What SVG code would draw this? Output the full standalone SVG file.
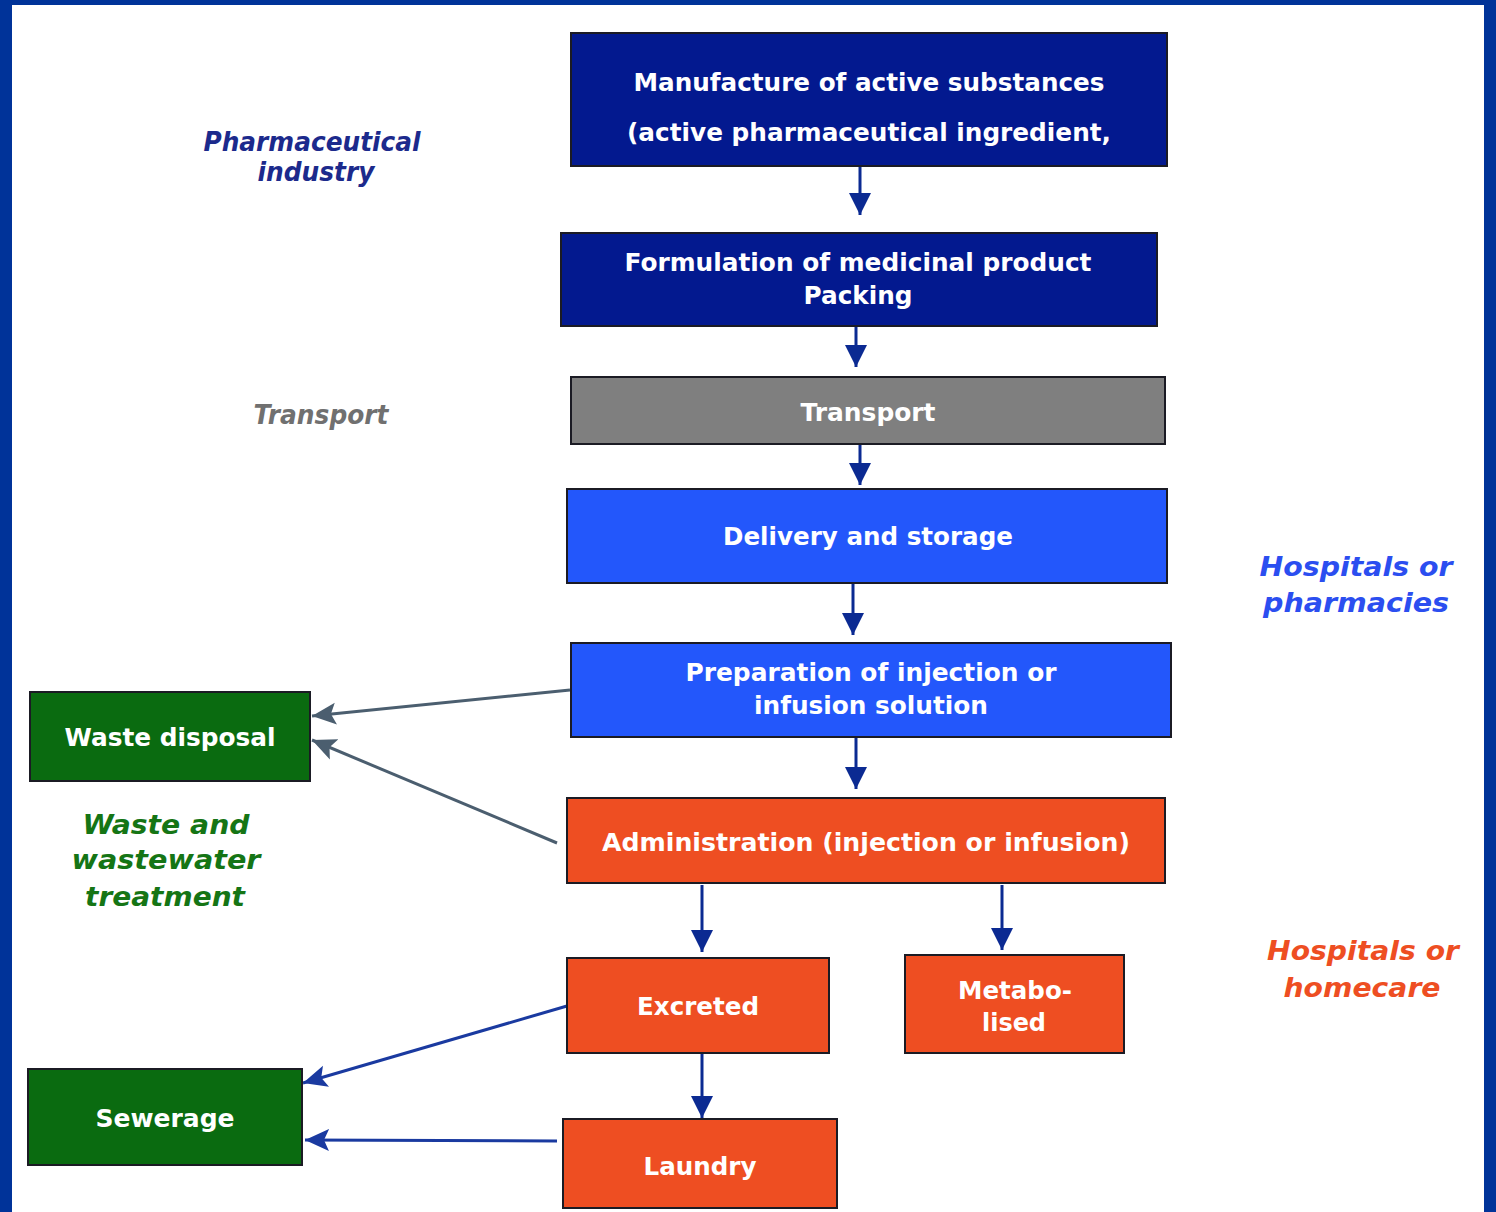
<svg xmlns="http://www.w3.org/2000/svg" width="1496" height="1212" viewBox="0 0 1496 1212">
<style>
.box{stroke:#1b1b24;stroke-width:2}
.navy{fill:#03198f}
.gray{fill:#7f7f7f}
.blue{fill:#2357fb}
.orange{fill:#ee4e22}
.green{fill:#0a6b10}
.bt{font-family:"DejaVu Sans",Verdana,sans-serif;font-weight:bold;font-size:25px;fill:#ffffff;text-anchor:middle}
.lab{font-family:"DejaVu Sans",Verdana,sans-serif;font-weight:bold;font-style:italic;font-size:27px;text-anchor:middle}
.c1{stroke:#0b2a92;stroke-width:3;fill:none}
.c2{stroke:#4b5e6f;stroke-width:3;fill:none}
.c3{stroke:#1a3aa0;stroke-width:3;fill:none}
</style>
<defs>
<marker id="ah1" markerUnits="userSpaceOnUse" markerWidth="24" markerHeight="24" viewBox="0 0 24 24" refX="22" refY="12" orient="auto">
<path d="M0,1 L22,12 L0,23 Z" fill="#0b2a92"/>
</marker>
<marker id="ah2" markerUnits="userSpaceOnUse" markerWidth="26" markerHeight="24" viewBox="0 0 26 24" refX="24" refY="12" orient="auto">
<path d="M0,1 L24,12 L0,23 L5,12 Z" fill="#4b5e6f"/>
</marker>
<marker id="ah3" markerUnits="userSpaceOnUse" markerWidth="26" markerHeight="24" viewBox="0 0 26 24" refX="24" refY="12" orient="auto">
<path d="M0,1 L24,12 L0,23 L5,12 Z" fill="#1a3aa0"/>
</marker>
</defs>
<rect x="0" y="0" width="1496" height="1212" fill="#ffffff"/>
<rect x="0" y="0" width="1496" height="5" fill="#003399"/>
<rect x="0" y="0" width="12" height="1212" fill="#003399"/>
<rect x="1484" y="0" width="12" height="1212" fill="#003399"/>

<g id="connectors">
<line class="c1" x1="860" y1="167" x2="860" y2="215" marker-end="url(#ah1)"/>
<line class="c1" x1="856" y1="327" x2="856" y2="367" marker-end="url(#ah1)"/>
<line class="c1" x1="860" y1="445" x2="860" y2="485" marker-end="url(#ah1)"/>
<line class="c1" x1="853" y1="584" x2="853" y2="635" marker-end="url(#ah1)"/>
<line class="c1" x1="856" y1="738" x2="856" y2="789" marker-end="url(#ah1)"/>
<line class="c1" x1="702" y1="885" x2="702" y2="952" marker-end="url(#ah1)"/>
<line class="c1" x1="1002" y1="885" x2="1002" y2="950" marker-end="url(#ah1)"/>
<line class="c1" x1="702" y1="1054" x2="702" y2="1118" marker-end="url(#ah1)"/>
<line class="c2" x1="570" y1="690" x2="312" y2="716" marker-end="url(#ah2)"/>
<line class="c2" x1="557" y1="843" x2="312" y2="740" marker-end="url(#ah2)"/>
<line class="c3" x1="567" y1="1006" x2="303" y2="1083" marker-end="url(#ah3)"/>
<line class="c3" x1="557" y1="1141" x2="305" y2="1140" marker-end="url(#ah3)"/>
</g>

<g id="manufacture">
<rect class="box navy" x="571" y="33" width="596" height="133"/>
<text class="bt" x="869" y="91" textLength="471" lengthAdjust="spacingAndGlyphs">Manufacture of active substances</text>
<text class="bt" x="869" y="141" textLength="484" lengthAdjust="spacingAndGlyphs">(active pharmaceutical ingredient,</text>
</g>
<g id="formulation">
<rect class="box navy" x="561" y="233" width="596" height="93"/>
<text class="bt" x="858" y="271" textLength="467" lengthAdjust="spacingAndGlyphs">Formulation of medicinal product</text>
<text class="bt" x="858" y="304" textLength="109" lengthAdjust="spacingAndGlyphs">Packing</text>
</g>
<g id="transport">
<rect class="box gray" x="571" y="377" width="594" height="67"/>
<text class="bt" x="868" y="421" textLength="135" lengthAdjust="spacingAndGlyphs">Transport</text>
</g>
<g id="delivery">
<rect class="box blue" x="567" y="489" width="600" height="94"/>
<text class="bt" x="868" y="545" textLength="290" lengthAdjust="spacingAndGlyphs">Delivery and storage</text>
</g>
<g id="preparation">
<rect class="box blue" x="571" y="643" width="600" height="94"/>
<text class="bt" x="871" y="681" textLength="371" lengthAdjust="spacingAndGlyphs">Preparation of injection or</text>
<text class="bt" x="871" y="714" textLength="234" lengthAdjust="spacingAndGlyphs">infusion solution</text>
</g>
<g id="administration">
<rect class="box orange" x="567" y="798" width="598" height="85"/>
<text class="bt" x="866" y="851" textLength="528" lengthAdjust="spacingAndGlyphs">Administration (injection or infusion)</text>
</g>
<g id="excreted">
<rect class="box orange" x="567" y="958" width="262" height="95"/>
<text class="bt" x="698" y="1015" textLength="122" lengthAdjust="spacingAndGlyphs">Excreted</text>
</g>
<g id="metabolised">
<rect class="box orange" x="905" y="955" width="219" height="98"/>
<text class="bt" x="1015" y="999" textLength="114" lengthAdjust="spacingAndGlyphs">Metabo-</text>
<text class="bt" x="1014" y="1031" textLength="64" lengthAdjust="spacingAndGlyphs">lised</text>
</g>
<g id="laundry">
<rect class="box orange" x="563" y="1119" width="274" height="89"/>
<text class="bt" x="700" y="1175" textLength="113" lengthAdjust="spacingAndGlyphs">Laundry</text>
</g>
<g id="waste-disposal">
<rect class="box green" x="30" y="692" width="280" height="89"/>
<text class="bt" x="170" y="746" textLength="211" lengthAdjust="spacingAndGlyphs">Waste disposal</text>
</g>
<g id="sewerage">
<rect class="box green" x="28" y="1069" width="274" height="96"/>
<text class="bt" x="165" y="1127" textLength="139" lengthAdjust="spacingAndGlyphs">Sewerage</text>
</g>

<g id="labels">
<text class="lab" fill="#1c2a8c" x="312" y="151" textLength="217" lengthAdjust="spacingAndGlyphs">Pharmaceutical</text>
<text class="lab" fill="#1c2a8c" x="316" y="181" textLength="117" lengthAdjust="spacingAndGlyphs">industry</text>
<text class="lab" fill="#707070" x="321" y="424" textLength="135" lengthAdjust="spacingAndGlyphs">Transport</text>
<text class="lab" fill="#2b4ef0" x="1356" y="576" textLength="193" lengthAdjust="spacingAndGlyphs">Hospitals or</text>
<text class="lab" fill="#2b4ef0" x="1356" y="612" textLength="186" lengthAdjust="spacingAndGlyphs">pharmacies</text>
<text class="lab" fill="#157515" x="166" y="834" textLength="167" lengthAdjust="spacingAndGlyphs">Waste and</text>
<text class="lab" fill="#157515" x="166" y="869" textLength="189" lengthAdjust="spacingAndGlyphs">wastewater</text>
<text class="lab" fill="#157515" x="165" y="906" textLength="160" lengthAdjust="spacingAndGlyphs">treatment</text>
<text class="lab" fill="#ee4e22" x="1363" y="960" textLength="192" lengthAdjust="spacingAndGlyphs">Hospitals or</text>
<text class="lab" fill="#ee4e22" x="1362" y="997" textLength="157" lengthAdjust="spacingAndGlyphs">homecare</text>
</g>
</svg>
